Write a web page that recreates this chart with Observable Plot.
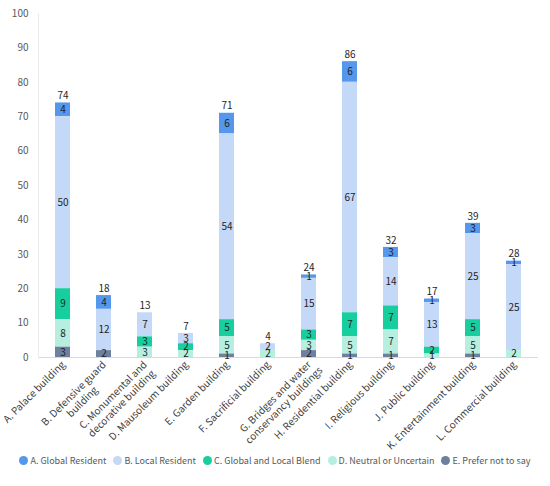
<!DOCTYPE html>
<html>
<head>
<meta charset="utf-8">
<script src="https://cdn.jsdelivr.net/npm/d3@7"></script>
<script src="https://cdn.jsdelivr.net/npm/@observablehq/plot@0.6"></script>
<style>
  html, body { margin: 0; padding: 0; background: #fff; }
  body { width: 550px; height: 486px; overflow: hidden; font-family: "Noto Sans CJK SC", "Noto Sans", sans-serif; }
  #chart svg { overflow: visible; display: block; }
  #legend { display: flex; justify-content: center; align-items: center; gap: 7px; font-size: 9px; color: #595959; margin-top: 9px; }
  #legend .item { display: flex; align-items: center; gap: 2px; white-space: nowrap; }
  #legend .dot { width: 9px; height: 9px; border-radius: 50%; display: inline-block; }
</style>
</head>
<body>
<div id="chart"></div>
<div id="legend"></div>
<script>
const categories = [
  "A. Palace building",
  "B. Defensive guard\nbuilding",
  "C. Monumental and\ndecorative building",
  "D. Mausoleum building",
  "E. Garden building",
  "F. Sacrificial building",
  "G. Bridges and water\nconservancy buildings",
  "H. Residential building",
  "I. Religious building",
  "J. Public building",
  "K. Entertainment building",
  "L. Commercial building"
];
const seriesNames = [
  "A. Global Resident",
  "B. Local Resident",
  "C. Global and Local Blend",
  "D. Neutral or Uncertain",
  "E. Prefer not to say"
];
const seriesColors = ["#5597ec", "#c4d8f7", "#17cf9e", "#b6efdf", "#6e809e"];
const globalResident = [4, 4, 0, 0, 6, 0, 1, 6, 3, 1, 3, 1];
const localResident  = [50, 12, 7, 3, 54, 2, 15, 67, 14, 13, 25, 25];
const blend          = [9, 0, 3, 2, 5, 0, 3, 7, 7, 2, 5, 0];
const neutral        = [8, 0, 3, 2, 5, 2, 3, 5, 7, 1, 5, 2];
const preferNot      = [3, 2, 0, 0, 1, 0, 2, 1, 1, 0, 1, 0];
const yTicks = [0, 10, 20, 30, 40, 50, 60, 70, 80, 90, 100];

const FONT = "'Noto Sans CJK SC', 'Noto Sans', sans-serif";
const FS = 10;

const seriesValues = [globalResident, localResident, blend, neutral, preferNot];
const rows = [];
categories.forEach((c, i) => {
  seriesNames.forEach((s, j) => {
    rows.push({category: c, series: s, value: seriesValues[j][i]});
  });
});
const nonZero = rows.filter(d => d.value > 0);
const totals = categories.map((c, i) => ({
  category: c,
  total: seriesValues.reduce((a, arr) => a + arr[i], 0)
}));
const stackOrder = [...seriesNames].reverse(); // bottom: E ... top: A

// x tick labels: first line anchored at the tick, second line centred under it
const ctx = document.createElement("canvas").getContext("2d");
ctx.font = `${FS}px ${FONT}`;
const pad = 5, lineGap = 12, c45 = Math.SQRT1_2;
const firstLines = categories.map(c => ({category: c, text: c.split("\n")[0]}));
const secondLines = categories.filter(c => c.includes("\n")).map(c => {
  const [l1, l2] = c.split("\n");
  const along = -(ctx.measureText(l1).width - ctx.measureText(l2).width) / 2;
  return {category: c, text: l2, dx: along * c45 + lineGap * c45, dy: -along * c45 + lineGap * c45};
});

const chart = Plot.plot({
  width: 550,
  height: 445,
  marginLeft: 38,
  marginRight: 12,
  marginTop: 13,
  marginBottom: 88,
  style: {fontFamily: FONT, fontSize: FS + "px", background: "#fff", overflow: "visible"},
  x: {domain: categories, paddingInner: 0.64, paddingOuter: 0.33, label: null, axis: null},
  y: {domain: [0, 100], label: null},
  color: {domain: seriesNames, range: seriesColors},
  marks: [
    Plot.ruleY([0], {stroke: "#d9d9d9", strokeWidth: 1}),
    Plot.frame({anchor: "left", stroke: "#ececec"}),
    Plot.barY(nonZero, Plot.stackY({x: "category", y: "value", z: "series", fill: "series", order: stackOrder})),
    Plot.text(nonZero, Plot.stackY({x: "category", y: "value", z: "series", order: stackOrder, text: "value", fill: "#1f1f1f", fontSize: FS})),
    Plot.text(totals, {x: "category", y: "total", text: "total", dy: -7, fill: "#1f1f1f", fontSize: FS}),
    Plot.axisY({ticks: yTicks, tickSize: 0, tickPadding: 10, fill: "#595959", fontSize: FS}),
    Plot.text(firstLines, {x: "category", y: 0, text: "text", rotate: -45, textAnchor: "end", lineAnchor: "middle", dx: -pad * c45 + 4, dy: pad * c45 + 2, fill: "#404040", fontSize: FS}),
    ...secondLines.map(d => Plot.text([d], {x: "category", y: 0, text: "text", rotate: -45, textAnchor: "end", lineAnchor: "middle", dx: -pad * c45 + 4 + d.dx, dy: pad * c45 + 2 + d.dy, fill: "#404040", fontSize: FS}))
  ]
});
document.getElementById("chart").appendChild(chart);

const legend = document.getElementById("legend");
seriesNames.forEach((s, i) => {
  const item = document.createElement("div");
  item.className = "item";
  const dot = document.createElement("span");
  dot.className = "dot";
  dot.style.background = seriesColors[i];
  const label = document.createElement("span");
  label.textContent = s;
  item.appendChild(dot);
  item.appendChild(label);
  legend.appendChild(item);
});
</script>
</body>
</html>
